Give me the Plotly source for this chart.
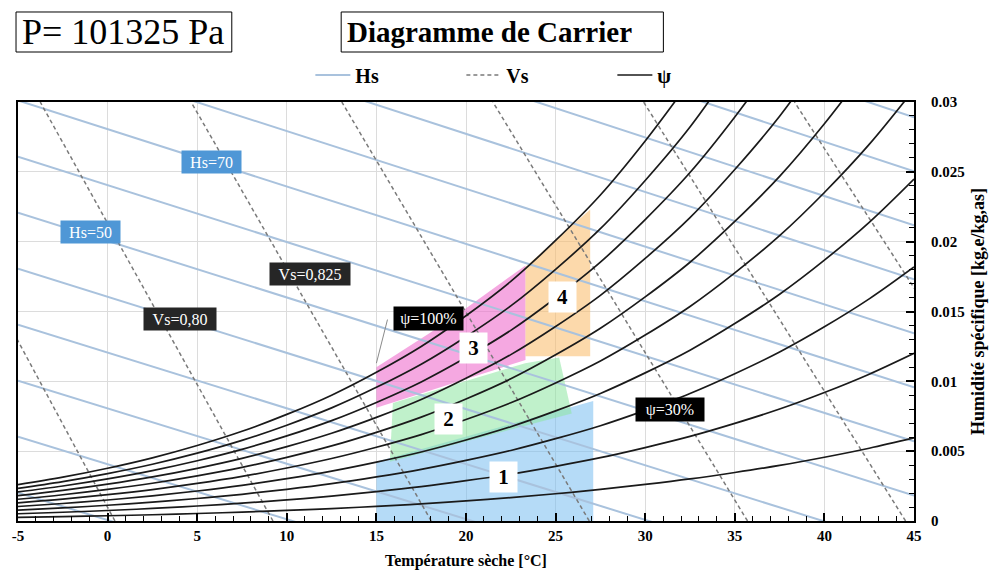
import plotly.graph_objects as go

# ---------------- data ----------------
# relative humidity curves (psi): specific humidity [kg/kg] at dry temperatures (2.5 °C steps)
temps = [-5, -2.5, 0, 2.5, 5, 7.5, 10, 12.5, 15, 17.5, 20, 22.5, 25, 27.5, 30, 32.5, 35, 37.5, 40, 42.5, 45]
psi10 = [0.000259, 0.000312, 0.000375, 0.000449, 0.000536, 0.000636, 0.000755, 0.000889, 0.001049, 0.001228,
         0.001439, 0.001674, 0.001952, 0.002258, 0.002618, 0.003013, 0.003474, 0.003981, 0.004566, 0.005212, 0.005946]
psi20 = [0.000518, 0.000625, 0.000751, 0.000899, 0.001073, 0.001274, 0.001512, 0.001781, 0.002101, 0.002460,
         0.002885, 0.003357, 0.003916, 0.004532, 0.005258, 0.006055, 0.006988, 0.008014, 0.009200, 0.010512, 0.012007]
psi30 = [0.000778, 0.000938, 0.001128, 0.001349, 0.001611, 0.001913, 0.002270, 0.002676, 0.003157, 0.003698,
         0.004338, 0.005050, 0.005893, 0.006823, 0.007920, 0.009127, 0.010541, 0.012098, 0.013903, 0.015903, 0.018186]
psi40 = [0.001037, 0.001252, 0.001505, 0.001800, 0.002150, 0.002553, 0.003031, 0.003573, 0.004217, 0.004940,
         0.005797, 0.006751, 0.007882, 0.009131, 0.010605, 0.012230, 0.014135, 0.016236, 0.018677, 0.021386, 0.024486]
psi50 = [0.001297, 0.001565, 0.001882, 0.002252, 0.002690, 0.003195, 0.003793, 0.004473, 0.005280, 0.006187,
         0.007264, 0.008462, 0.009883, 0.011456, 0.013313, 0.015363, 0.017770, 0.020429, 0.023522, 0.026964, 0.030912]
psi60 = [0.001557, 0.001879, 0.002260, 0.002704, 0.003231, 0.003837, 0.004557, 0.005375, 0.006347, 0.007439,
         0.008737, 0.010182, 0.011898, 0.013798, 0.016045, 0.018527, 0.021446, 0.024676, 0.028442, 0.032640]
psi70 = [0.001818, 0.002194, 0.002638, 0.003157, 0.003772, 0.004482, 0.005323, 0.006280, 0.007417, 0.008696,
         0.010217, 0.011912, 0.013925, 0.016157, 0.018800, 0.021722, 0.025165, 0.028981, 0.033437]
psi80 = [0.002078, 0.002508, 0.003017, 0.003611, 0.004315, 0.005127, 0.006091, 0.007188, 0.008491, 0.009959,
         0.011704, 0.013651, 0.015966, 0.018534, 0.021579, 0.024950, 0.028927, 0.033343]
psi90 = [0.002339, 0.002823, 0.003396, 0.004065, 0.004859, 0.005774, 0.006860, 0.008098, 0.009569, 0.011226,
         0.013198, 0.015399, 0.018019, 0.020929, 0.024382, 0.028210, 0.032733]
psi100 = [0.002600, 0.003138, 0.003775, 0.004520, 0.005403, 0.006422, 0.007632, 0.009011, 0.010650, 0.012498,
          0.014699, 0.017158, 0.020086, 0.023342, 0.027210, 0.031504]
psi_curves = [psi10, psi20, psi30, psi40, psi50, psi60, psi70, psi80, psi90, psi100]

# enthalpy lines Hs [kJ/kg]: specific humidity at T=-5 and T=45
hs_values = [0, 10, 20, 30, 40, 50, 60, 70, 80, 90, 100, 110, 120]
hs_T_ends = [-5, 45]
hs_w_left = [0.00202, 0.00603, 0.01005, 0.01406, 0.01807, 0.02208, 0.02609, 0.03011, 0.03412, 0.03813, 0.04214, 0.04616, 0.05017]
hs_w_right = [-0.01751, -0.01365, -0.00978, -0.00591, -0.00204, 0.00183, 0.00570, 0.00957, 0.01344, 0.01731, 0.02117, 0.02504, 0.02891]

# specific volume lines Vs [m3/kg]: temperature at w=0 and at w=0.03
vs_values = [0.775, 0.80, 0.825, 0.85, 0.875, 0.90, 0.925]
vs_w_ends = [0.0, 0.03]
vs_T_bottom = [0.41, 9.23, 18.06, 26.88, 35.71, 44.53, 53.36]
vs_T_top = [-12.18, -3.76, 4.66, 13.07, 21.50, 29.91, 38.33]

# comfort zones (polygons)
zone1_T = [15.0, 15.0, 27.1, 27.1]
zone1_w = [0.0, 0.00425, 0.0086, 0.0]
zone2_T = [15.75, 15.92, 23.3, 25.2, 25.9]
zone2_w = [0.00425, 0.00845, 0.0113, 0.0117, 0.0077]
zone3_T = [15.0, 15.0, 19.0, 23.32, 23.32]
zone3_w = [0.0081, 0.0110, 0.0143, 0.0183, 0.01153]
zone4_T = [23.32, 23.32, 26.93, 26.93]
zone4_w = [0.0118, 0.0182, 0.0223, 0.0118]
zone_names = ["1", "2", "3", "4"]
zone_label_T = [22.12, 19.03, 20.42, 25.36]
zone_label_w = [0.00317, 0.00728, 0.0124, 0.01606]

# line labels
hs_labels = ["Hs=50", "Hs=70"]
hs_label_T = [-0.95, 5.77]
hs_label_w = [0.02066, 0.0257]
vs_labels = ["Vs=0,80", "Vs=0,825"]
vs_label_T = [4.02, 11.30]
vs_label_w = [0.01445, 0.01771]
psi_labels = ["ψ=100%", "ψ=30%"]
psi_label_T = [17.92, 31.4]
psi_label_w = [0.01453, 0.00798]

# axes ticks
x_tickvals = [-5, 0, 5, 10, 15, 20, 25, 30, 35, 40, 45]
x_ticktext = ["-5", "0", "5", "10", "15", "20", "25", "30", "35", "40", "45"]
y_tickvals = [0, 0.005, 0.01, 0.015, 0.02, 0.025, 0.03]
y_ticktext = ["0", "0.005", "0.01", "0.015", "0.02", "0.025", "0.03"]

# ---------------- styling ----------------
SERIF = "Liberation Serif"
HS_COLOR = "#a9c2dd"
VS_COLOR = "#7a7a7a"
PSI_COLOR = "#1a1a1a"
zone_fills = ["rgba(120,190,240,0.55)", "rgba(140,230,160,0.55)",
              "rgba(238,110,205,0.6)", "rgba(250,190,110,0.58)"]

fig = go.Figure()

for (zt, zw), col in zip([(zone1_T, zone1_w), (zone2_T, zone2_w), (zone3_T, zone3_w), (zone4_T, zone4_w)], zone_fills):
    fig.add_trace(go.Scatter(x=zt, y=zw, fill="toself", fillcolor=col, mode="lines",
                             line=dict(width=0), hoverinfo="skip", showlegend=False))

for i, h in enumerate(hs_values):
    fig.add_trace(go.Scatter(x=hs_T_ends, y=[hs_w_left[i], hs_w_right[i]], mode="lines",
                             line=dict(color=HS_COLOR, width=2), name="Hs",
                             legendgroup="hs", showlegend=(i == 0)))

for i, v in enumerate(vs_values):
    fig.add_trace(go.Scatter(x=[vs_T_bottom[i], vs_T_top[i]], y=vs_w_ends, mode="lines",
                             line=dict(color=VS_COLOR, width=1.5, dash="4px,3px"), name="Vs",
                             legendgroup="vs", showlegend=(i == 0)))

for i, wc in enumerate(psi_curves):
    fig.add_trace(go.Scatter(x=temps[:len(wc)], y=wc, mode="lines",
                             line=dict(color=PSI_COLOR, width=1.7, shape="spline"), name="ψ",
                             legendgroup="psi", showlegend=(i == 0)))

ann = []
for t, x, y in zip(zone_names, zone_label_T, zone_label_w):
    ann.append(dict(x=x, y=y, xref="x", yref="y", text=t, showarrow=False,
                    font=dict(family=SERIF, size=21, color="black", weight="bold"),
                    bgcolor="white", width=25, height=28, borderpad=1))
for t, x, y in zip(hs_labels, hs_label_T, hs_label_w):
    ann.append(dict(x=x, y=y, xref="x", yref="y", text=t, showarrow=False,
                    font=dict(family=SERIF, size=16, color="white"),
                    bgcolor="#4f97d6", width=57, height=20, borderpad=1))
for t, x, y in zip(vs_labels, vs_label_T, vs_label_w):
    ann.append(dict(x=x, y=y, xref="x", yref="y", text=t, showarrow=False,
                    font=dict(family=SERIF, size=16, color="white"),
                    bgcolor="#262626", width=(70 if t == "Vs=0,80" else 78), height=20, borderpad=1))
for t, x, y in zip(psi_labels, psi_label_T, psi_label_w):
    ann.append(dict(x=x, y=y, xref="x", yref="y", text=t, showarrow=False,
                    font=dict(family=SERIF, size=16, color="white"),
                    bgcolor="black", width=(67 if t == "ψ=100%" else 66), height=21, borderpad=1))
# leader line from the psi=100% label to the saturation curve
ann.append(dict(x=15.0, y=0.0113, xref="x", yref="y", ax=15.64, ay=0.01453, axref="x", ayref="y",
                text="", showarrow=True, arrowhead=0, arrowwidth=1, arrowcolor="#8a8a8a",
                standoff=0, startstandoff=0))
# header texts
ann.append(dict(x=0.1176, y=1.1671, xref="paper", yref="paper", text="P= 101325 Pa", showarrow=False,
                xanchor="center", yanchor="middle", font=dict(family=SERIF, size=36, color="black")))
ann.append(dict(x=0.3652, y=1.1671, xref="paper", yref="paper", text="Diagramme de Carrier", showarrow=False,
                xanchor="left", yanchor="middle", font=dict(family=SERIF, size=29, color="black", weight="bold")))

shapes = [
    dict(type="rect", xref="paper", yref="paper", x0=-0.0022, x1=0.2386, y0=1.1193, y1=1.2148,
         line=dict(color="black", width=1), fillcolor="rgba(0,0,0,0)"),
    dict(type="rect", xref="paper", yref="paper", x0=0.3607, x1=0.7203, y0=1.1193, y1=1.2148,
         line=dict(color="black", width=1), fillcolor="rgba(0,0,0,0)"),
]

fig.update_layout(
    width=998, height=581,
    margin=dict(l=13, r=84, t=102, b=60),
    paper_bgcolor="white", plot_bgcolor="white",
    annotations=ann, shapes=shapes,
    legend=dict(orientation="h", x=0.3263, y=1.0644, xanchor="left", yanchor="middle",
                font=dict(family=SERIF, size=20, color="black", weight="bold"),
                bgcolor="rgba(0,0,0,0)", entrywidth=101, entrywidthmode="pixels",
                itemwidth=35, tracegroupgap=0),
    xaxis=dict(range=[-5, 45], tickmode="array", tickvals=x_tickvals, ticktext=x_ticktext,
               ticks="inside", ticklen=8, tickwidth=1.5, tickcolor="black",
               minor=dict(tickmode="linear", tick0=-5, dtick=1, ticks="inside", ticklen=5,
                          tickcolor="black", tickwidth=1.2, showgrid=False),
               showgrid=True, gridcolor="#dcdcdc", gridwidth=1, zeroline=False,
               showline=True, linecolor="black", linewidth=2, mirror=True,
               tickfont=dict(family=SERIF, size=15, color="black", weight="bold"),
               title=dict(text="Température sèche [°C]", standoff=12,
                          font=dict(family=SERIF, size=16, color="black", weight="bold"))),
    yaxis=dict(range=[0, 0.03], side="right", tickmode="array", tickvals=y_tickvals, ticktext=y_ticktext,
               ticks="inside", ticklen=8, tickwidth=1.5, tickcolor="black",
               minor=dict(tickmode="linear", tick0=0, dtick=0.001, ticks="inside", ticklen=5,
                          tickcolor="black", tickwidth=1.2, showgrid=False),
               showgrid=True, gridcolor="#dcdcdc", gridwidth=1, zeroline=False,
               showline=True, linecolor="black", linewidth=2, mirror=True,
               ticklabelstandoff=12,
               tickfont=dict(family=SERIF, size=15, color="black", weight="bold"),
               title=dict(text="Humidité spécifique [kg,e/kg,as]", standoff=8,
                          font=dict(family=SERIF, size=18, color="black", weight="bold"))),
)

fig.write_html("out.html")
